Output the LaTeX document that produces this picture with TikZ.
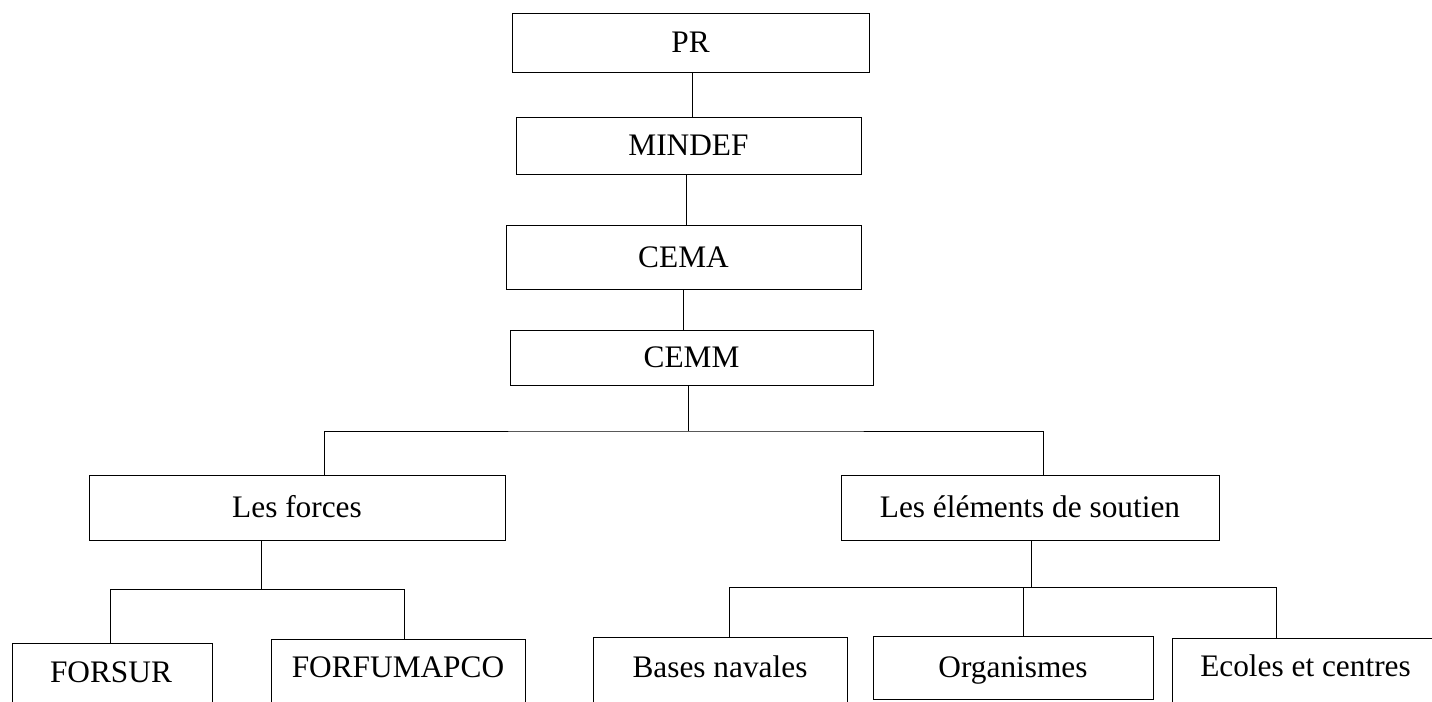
\documentclass[tikz,border=0pt]{standalone}
\usepackage{fontspec}
\setmainfont{Liberation Serif}
\newlength\pxu
\setlength\pxu{0.75pt}
\begin{document}
\begin{tikzpicture}[x=0.75pt,y=-0.75pt,
  every node/.style={inner sep=0pt, outer sep=0pt, font=\fontsize{23.5}{28}\selectfont, text height=15.5pt, text depth=0pt},
  box/.style 2 args={draw, line width=0.75pt, rectangle, minimum width=#1\pxu, minimum height=#2\pxu},
  lbl/.style={},
  conn/.style={line width=0.75pt}]
\useasboundingbox (0,0) rectangle (1432,701);
\fill[white] (0,0) rectangle (1432,701);
\clip (0,0) rectangle (1432,701);

\node[box={357}{59}] (pr) at (690.5,42.5) {PR};
\node[box={345}{57}] (mindef) at (688.5,145.5) {MINDEF};
\node[box={355}{64}] (cema) at (683.5,257) {CEMA};
\node[box={363}{55}] (cemm) at (691.5,357.5) {CEMM};
\node[box={416}{65}] (lf) at (297,507.5) {Les forces};
\node[box={378}{65}] (le) at (1030,507.5) {Les éléments de soutien};

\node[box={200}{69}] (forsur) at (112,677.5) {};
\node[lbl] (forsurt) at (111,672.5) {FORSUR};
\node[box={254}{73}] (forfu) at (398,675.5) {};
\node[lbl] (forfut) at (398,667) {FORFUMAPCO};
\node[box={254}{75}] (bases) at (720,674.5) {};
\node[lbl] (basest) at (720,667) {Bases navales};
\node[box={280}{63}] (org) at (1013,667.5) {Organismes};
\node[box={278}{74}] (ecoles) at (1311,675) {};
\node[lbl] (ecolest) at (1305.5,666) {Ecoles et centres};

\coordinate (j1) at (688,431);
\coordinate (j2) at (261,589);
\coordinate (j3) at (1031,587);

\draw[conn] (pr.south -| 692,0) -- (mindef.north -| 692,0);
\draw[conn] (mindef.south -| 686,0) -- (cema.north -| 686,0);
\draw[conn] (cema.south -| 683,0) -- (cemm.north -| 683,0);
\draw[conn] (cemm.south -| j1) -- (j1);
\draw[conn] (lf.north -| 324,0) |- (j1) -| (le.north -| 1043,0);

\draw[conn] (lf.south -| j2) -- (j2);
\draw[conn] (forsur.north -| 110,0) |- (j2) -| (forfu.north -| 404,0);

\draw[conn] (le.south -| j3) -- (j3);
\draw[conn] (bases.north -| 729,0) |- (j3) -| (ecoles.north -| 1276,0);
\draw[conn] (org.north -| 1023,0) |- (j3);
\end{tikzpicture}
\end{document}
